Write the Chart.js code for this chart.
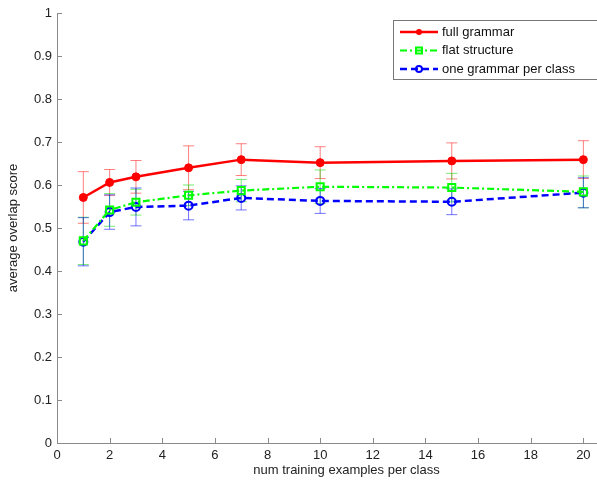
<!DOCTYPE html>
<html>
<head>
<meta charset="utf-8">
<script src="https://cdn.jsdelivr.net/npm/chart.js@4.4.1/dist/chart.umd.js"></script>
<style>
  html, body { margin: 0; padding: 0; background: #fff; }
  #wrap { width: 597px; height: 487px; overflow: hidden; position: relative; }
  #chart { display: block; }
</style>
</head>
<body>
<div id="wrap"><canvas id="chart" width="650" height="487"></canvas></div>
<script>
const examples = [1, 2, 3, 5, 7, 10, 15, 20]

const fullGrammar = [0.571, 0.606, 0.619, 0.640, 0.659, 0.652, 0.656, 0.659]
const fullGrammarErr = [0.060, 0.030, 0.038, 0.051, 0.037, 0.037, 0.042, 0.044]

const flatStructure = [0.470, 0.542, 0.560, 0.576, 0.587, 0.596, 0.594, 0.584]
const flatStructureErr = [0.055, 0.038, 0.030, 0.024, 0.026, 0.039, 0.033, 0.037]

const perClass = [0.468, 0.537, 0.549, 0.552, 0.570, 0.563, 0.561, 0.582]
const perClassErr = [0.056, 0.040, 0.044, 0.033, 0.028, 0.029, 0.030, 0.035]

const xTicks = [0, 2, 4, 6, 8, 10, 12, 14, 16, 18, 20, 22]
const yTicks = [0, 0.1, 0.2, 0.3, 0.4, 0.5, 0.6, 0.7, 0.8, 0.9, 1]

const labels = ["full grammar", "flat structure", "one grammar per class"]

const font = "Liberation Sans, Arial, Helvetica, sans-serif"
const axisColor = "#8a8a8a"

const toPoints = (values) => values.map((y, i) => ({ x: examples[i], y }))

const errorBars = {
  id: "errorBars",
  beforeDatasetsDraw(chart) {
    const { ctx, scales: { x, y } } = chart
    ctx.save()
    chart.data.datasets.forEach((ds) => {
      ctx.strokeStyle = ds.errColor
      ctx.lineWidth = 1
      ds.data.forEach((p, i) => {
        const px = x.getPixelForValue(p.x)
        const top = y.getPixelForValue(p.y + ds.err[i])
        const bottom = y.getPixelForValue(p.y - ds.err[i])
        ctx.beginPath()
        ctx.moveTo(px, top)
        ctx.lineTo(px, bottom)
        ctx.moveTo(px - 5.5, top)
        ctx.lineTo(px + 5.5, top)
        ctx.moveTo(px - 5.5, bottom)
        ctx.lineTo(px + 5.5, bottom)
        ctx.stroke()
      })
    })
    ctx.restore()
  }
}

// matlab style inward ticks plus a boxed legend in the top right
const matlabAxes = {
  id: "matlabAxes",
  afterDraw(chart) {
    const { ctx, chartArea, scales: { x, y } } = chart
    ctx.save()
    ctx.strokeStyle = axisColor
    ctx.lineWidth = 1
    ctx.beginPath()
    xTicks.forEach((v) => {
      const px = Math.round(x.getPixelForValue(v)) + 0.5
      ctx.moveTo(px, chartArea.bottom)
      ctx.lineTo(px, chartArea.bottom - 5)
    })
    yTicks.forEach((v) => {
      const py = Math.round(y.getPixelForValue(v)) + 0.5
      ctx.moveTo(chartArea.left, py)
      ctx.lineTo(chartArea.left + 5, py)
    })
    ctx.stroke()

    const box = { left: 393.5, top: 20.5, right: 630, bottom: 79.5 }
    ctx.fillStyle = "#fff"
    ctx.fillRect(box.left, box.top, box.right - box.left, box.bottom - box.top)
    ctx.strokeStyle = "#777"
    ctx.strokeRect(box.left, box.top, box.right - box.left, box.bottom - box.top)

    ctx.font = "13px " + font
    ctx.textBaseline = "middle"
    chart.data.datasets.forEach((ds, i) => {
      const ly = 32 + i * 18.5
      ctx.strokeStyle = ds.borderColor
      ctx.lineWidth = ds.borderWidth
      ctx.setLineDash(ds.borderDash || [])
      ctx.beginPath()
      ctx.moveTo(400, ly)
      ctx.lineTo(438, ly)
      ctx.stroke()
      ctx.setLineDash([])
      ctx.lineWidth = 2
      ctx.beginPath()
      if (ds.pointStyle === "rect") {
        ctx.rect(416, ly - 3, 6, 6)
        ctx.stroke()
      } else if (ds.pointBackgroundColor === "transparent") {
        ctx.arc(419, ly, 3, 0, Math.PI * 2)
        ctx.stroke()
      } else {
        ctx.fillStyle = ds.borderColor
        ctx.arc(419, ly, 3, 0, Math.PI * 2)
        ctx.fill()
      }
      ctx.fillStyle = "#111"
      ctx.fillText(ds.label, 442, ly)
    })
    ctx.restore()
  }
}

new Chart(document.getElementById("chart"), {
  type: "line",
  data: {
    datasets: [
      {
        label: labels[0],
        data: toPoints(fullGrammar),
        err: fullGrammarErr,
        errColor: "rgba(255, 0, 0, 0.5)",
        borderColor: "#ff0000",
        backgroundColor: "#ff0000",
        pointBackgroundColor: "#ff0000",
        borderWidth: 2.5,
        pointRadius: 4,
        pointBorderWidth: 1
      },
      {
        label: labels[1],
        data: toPoints(flatStructure),
        err: flatStructureErr,
        errColor: "rgba(0, 220, 0, 0.55)",
        borderColor: "#00ff00",
        backgroundColor: "#00ff00",
        pointBackgroundColor: "transparent",
        borderWidth: 2.2,
        borderDash: [7, 3, 2, 3],
        pointStyle: "rect",
        pointRadius: 5,
        pointBorderWidth: 2
      },
      {
        label: labels[2],
        data: toPoints(perClass),
        err: perClassErr,
        errColor: "rgba(0, 0, 255, 0.55)",
        borderColor: "#0000ff",
        backgroundColor: "#0000ff",
        pointBackgroundColor: "transparent",
        borderWidth: 2.5,
        borderDash: [7, 4],
        pointRadius: 4,
        pointBorderWidth: 2
      }
    ]
  },
  options: {
    responsive: false,
    animation: false,
    layout: { padding: { top: 13, right: 14, left: 0, bottom: 0 } },
    plugins: { legend: { display: false }, tooltip: { enabled: false } },
    scales: {
      x: {
        type: "linear",
        min: 0,
        max: 22,
        afterBuildTicks: (scale) => { scale.ticks = xTicks.map((value) => ({ value })) },
        afterFit: (scale) => { scale.height = 44 },
        grid: { display: false, drawTicks: false },
        border: { display: true, color: axisColor, width: 1 },
        ticks: { autoSkip: false, maxRotation: 0, padding: 5, color: "#222", font: { family: font, size: 13 } },
        title: { display: true, text: "num training examples per class", color: "#222", font: { family: font, size: 13 }, padding: { top: 0, bottom: 9 } }
      },
      y: {
        min: 0,
        max: 1,
        afterBuildTicks: (scale) => { scale.ticks = yTicks.map((value) => ({ value })) },
        afterFit: (scale) => { scale.width = 57 },
        grid: { display: false, drawTicks: false },
        border: { display: true, color: axisColor, width: 1 },
        ticks: { padding: 5, color: "#222", font: { family: font, size: 13 }, callback: (v) => String(Math.round(v * 10) / 10) },
        title: { display: true, text: "average overlap score", color: "#222", font: { family: font, size: 13 }, padding: { top: 6, bottom: 0 } }
      }
    }
  },
  plugins: [errorBars, matlabAxes]
})
</script>
</body>
</html>
